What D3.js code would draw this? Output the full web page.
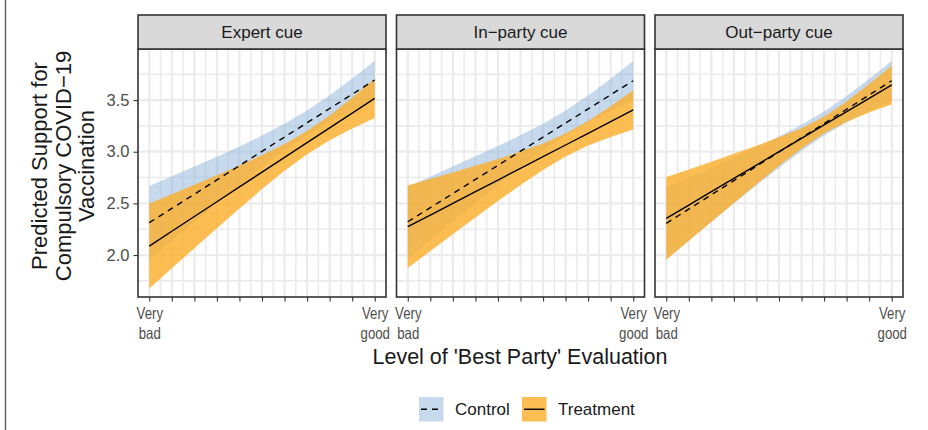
<!DOCTYPE html>
<html>
<head>
<meta charset="utf-8">
<script src="https://cdn.jsdelivr.net/npm/d3@7"></script>
<style>
  body { margin: 0; background: #fff; }
  svg { display: block; font-family: "Liberation Sans", Arial, sans-serif; }
  .axis path { display: none; }
  .axis line { stroke: #333; stroke-width: 1.1; }
  .axis text { fill: #4d4d4d; font-size: 16.5px; }
</style>
</head>
<body>
<svg id="chart" width="928" height="430"></svg>
<script>
// ---- data ----
var panels = ["Expert cue", "In\u2212party cue", "Out\u2212party cue"];
var xLevels = [0, 1, 2, 3, 4, 5, 6, 7, 8, 9, 10];
var xTickLabels = { 0: ["Very", "bad"], 10: ["Very", "good"] };
var yTicks = [2.0, 2.5, 3.0, 3.5];
var groups = ["Control", "Treatment"];

// Expert cue
var expertCtrlFit = [2.313, 2.451, 2.589, 2.727, 2.865, 3.004, 3.142, 3.280, 3.418, 3.556, 3.694];
var expertCtrlLo  = [1.957, 2.140, 2.322, 2.502, 2.679, 2.852, 3.014, 3.162, 3.290, 3.404, 3.508];
var expertCtrlHi  = [2.669, 2.762, 2.856, 2.952, 3.051, 3.156, 3.270, 3.398, 3.546, 3.708, 3.880];
var expertTrtFit  = [2.087, 2.230, 2.373, 2.516, 2.659, 2.802, 2.945, 3.088, 3.231, 3.374, 3.517];
var expertTrtLo   = [1.676, 1.872, 2.066, 2.260, 2.451, 2.638, 2.816, 2.976, 3.111, 3.225, 3.327];
var expertTrtHi   = [2.498, 2.588, 2.680, 2.772, 2.867, 2.966, 3.074, 3.200, 3.351, 3.523, 3.707];

// In-party cue
var inCtrlFit = [2.322, 2.459, 2.595, 2.732, 2.868, 3.005, 3.141, 3.278, 3.414, 3.551, 3.687];
var inCtrlLo  = [1.964, 2.146, 2.326, 2.505, 2.680, 2.851, 3.011, 3.158, 3.284, 3.397, 3.497];
var inCtrlHi  = [2.660, 2.758, 2.857, 2.956, 3.056, 3.159, 3.271, 3.398, 3.544, 3.705, 3.877];
var inTrtFit  = [2.274, 2.387, 2.500, 2.613, 2.726, 2.839, 2.952, 3.065, 3.178, 3.291, 3.404];
var inTrtLo   = [1.874, 2.038, 2.201, 2.363, 2.522, 2.677, 2.824, 2.954, 3.059, 3.143, 3.214];
var inTrtHi   = [2.674, 2.736, 2.799, 2.863, 2.930, 3.001, 3.080, 3.176, 3.297, 3.439, 3.594];

// Out-party cue
var outCtrlFit = [2.307, 2.445, 2.583, 2.721, 2.859, 2.997, 3.135, 3.273, 3.411, 3.549, 3.687];
var outCtrlLo  = [1.957, 2.139, 2.320, 2.499, 2.675, 2.846, 3.008, 3.156, 3.284, 3.395, 3.493];
var outCtrlHi  = [2.657, 2.751, 2.846, 2.943, 3.043, 3.148, 3.262, 3.390, 3.538, 3.703, 3.881];
var outTrtFit  = [2.355, 2.484, 2.613, 2.742, 2.871, 3.001, 3.130, 3.259, 3.388, 3.517, 3.646];
var outTrtLo   = [1.955, 2.139, 2.322, 2.504, 2.685, 2.863, 3.032, 3.179, 3.290, 3.379, 3.460];
var outTrtHi   = [2.755, 2.829, 2.904, 2.980, 3.057, 3.139, 3.228, 3.339, 3.486, 3.655, 3.832];

var series = [
  { ctrl: [expertCtrlFit, expertCtrlLo, expertCtrlHi], trt: [expertTrtFit, expertTrtLo, expertTrtHi] },
  { ctrl: [inCtrlFit, inCtrlLo, inCtrlHi], trt: [inTrtFit, inTrtLo, inTrtHi] },
  { ctrl: [outCtrlFit, outCtrlLo, outCtrlHi], trt: [outTrtFit, outTrtLo, outTrtHi] }
];

// ---- layout ----
var svg = d3.select("#chart");
var panelW = 248, panelLeft = [138, 396.5, 655];
var stripTop = 15, panelTop = 49, panelBottom = 297;
var ctrlFill = "#8fb4d9", trtFill = "#fbb02d";

// left frame line of the figure
svg.append("line")
  .attr("x1", 5.5).attr("x2", 5.5).attr("y1", 0).attr("y2", 430)
  .attr("stroke", "#666").attr("stroke-width", 1.5);

var y = d3.scaleLinear()
  .domain([1.594, 3.994])   // includes ggplot's 5% padding
  .range([panelBottom, panelTop]);

var yMinor = d3.range(1.75, 4.0, 0.5);

panels.forEach(function (name, p) {
  var x = d3.scaleLinear()
    .domain([-0.5, 10.5])
    .range([panelLeft[p], panelLeft[p] + panelW]);

  var g = svg.append("g");

  // grid
  var grid = g.append("g").attr("stroke", "#ebebeb");
  grid.selectAll(".vmin").data(xLevels.slice(0, -1)).enter().append("line")
    .attr("x1", function (d) { return x(d + 0.5); }).attr("x2", function (d) { return x(d + 0.5); })
    .attr("y1", panelTop).attr("y2", panelBottom).attr("stroke-width", 1.6);
  grid.selectAll(".vmaj").data(xLevels).enter().append("line")
    .attr("x1", function (d) { return x(d); }).attr("x2", function (d) { return x(d); })
    .attr("y1", panelTop).attr("y2", panelBottom).attr("stroke-width", 2.2);
  grid.selectAll(".hmin").data(yMinor).enter().append("line")
    .attr("y1", function (d) { return y(d); }).attr("y2", function (d) { return y(d); })
    .attr("x1", x.range()[0]).attr("x2", x.range()[1]).attr("stroke-width", 1.6);
  grid.selectAll(".hmaj").data(yTicks).enter().append("line")
    .attr("y1", function (d) { return y(d); }).attr("y2", function (d) { return y(d); })
    .attr("x1", x.range()[0]).attr("x2", x.range()[1]).attr("stroke-width", 2.2);

  var s = series[p];
  var area = function (lo, hi) {
    return d3.area()
      .x(function (d, i) { return x(xLevels[i]); })
      .y0(function (d, i) { return y(lo[i]); })
      .y1(function (d, i) { return y(hi[i]); })(xLevels);
  };
  var line = d3.line()
    .x(function (d, i) { return x(xLevels[i]); })
    .y(function (d) { return y(d); });

  g.append("path").attr("d", area(s.ctrl[1], s.ctrl[2]))
    .attr("fill", ctrlFill).attr("fill-opacity", 0.5);
  g.append("path").attr("d", area(s.trt[1], s.trt[2]))
    .attr("fill", trtFill).attr("fill-opacity", 0.82);

  g.append("path").attr("d", line(s.ctrl[0]))
    .attr("fill", "none").attr("stroke", "#000").attr("stroke-width", 1.4)
    .attr("stroke-dasharray", "6,5");
  g.append("path").attr("d", line(s.trt[0]))
    .attr("fill", "none").attr("stroke", "#000").attr("stroke-width", 1.4);

  // panel border
  g.append("rect")
    .attr("x", x.range()[0]).attr("y", panelTop)
    .attr("width", panelW).attr("height", panelBottom - panelTop)
    .attr("fill", "none").attr("stroke", "#333").attr("stroke-width", 1.6);

  // strip
  g.append("rect")
    .attr("x", x.range()[0]).attr("y", stripTop)
    .attr("width", panelW).attr("height", panelTop - stripTop)
    .attr("fill", "#d9d9d9").attr("stroke", "#333").attr("stroke-width", 1.6);
  g.append("text")
    .attr("x", x.range()[0] + panelW / 2).attr("y", (stripTop + panelTop) / 2 + 6)
    .attr("text-anchor", "middle").attr("font-size", 17).attr("fill", "#1a1a1a")
    .text(name);

  // x axis
  var xa = g.append("g").attr("class", "axis")
    .attr("transform", "translate(0," + panelBottom + ")")
    .call(d3.axisBottom(x).tickValues(xLevels).tickSize(4.5).tickPadding(5)
      .tickFormat(function () { return ""; }));
  xa.selectAll(".tick").each(function (d) {
    var lab = xTickLabels[d];
    if (!lab) return;
    var t = d3.select(this).select("text")
      .attr("y", 0).attr("dy", null)
      .attr("transform", "scale(0.8,1)");
    lab.forEach(function (w, k) {
      t.append("tspan").attr("x", 0).attr("y", 22 + k * 20).text(w);
    });
  });

  // y axis only on first panel
  if (p === 0) {
    g.append("g").attr("class", "axis")
      .attr("transform", "translate(" + x.range()[0] + ",0)")
      .call(d3.axisLeft(y).tickValues(yTicks).tickSize(4.5).tickPadding(4)
        .tickFormat(d3.format(".1f")));
  }
});

// axis titles
svg.append("text")
  .attr("x", 520).attr("y", 364)
  .attr("text-anchor", "middle").attr("font-size", 21.5).attr("fill", "#1a1a1a")
  .text("Level of 'Best Party' Evaluation");

var yTitle = ["Predicted Support for", "Compulsory COVID\u221219", "Vaccination"];
var yt = svg.append("text")
  .attr("transform", "translate(0,166) rotate(-90)")
  .attr("text-anchor", "middle").attr("font-size", 22).attr("fill", "#1a1a1a");
yTitle.forEach(function (w, k) {
  yt.append("tspan").attr("x", 0).attr("y", 47 + k * 23.5).text(w);
});

// legend
var legend = svg.append("g").attr("transform", "translate(419,397)");
var legX = [0, 103];
groups.forEach(function (gname, i) {
  var lg = legend.append("g").attr("transform", "translate(" + legX[i] + ",0)");
  lg.append("rect").attr("width", 24.5).attr("height", 24.5)
    .attr("fill", i === 0 ? ctrlFill : trtFill)
    .attr("fill-opacity", i === 0 ? 0.5 : 0.82);
  lg.append("line").attr("x1", 2).attr("x2", 22.5).attr("y1", 12.25).attr("y2", 12.25)
    .attr("stroke", "#000").attr("stroke-width", 1.4)
    .attr("stroke-dasharray", i === 0 ? "6,5" : null);
  lg.append("text").attr("x", 36).attr("y", 18)
    .attr("font-size", 17).attr("fill", "#1a1a1a").text(gname);
});
</script>
</body>
</html>
